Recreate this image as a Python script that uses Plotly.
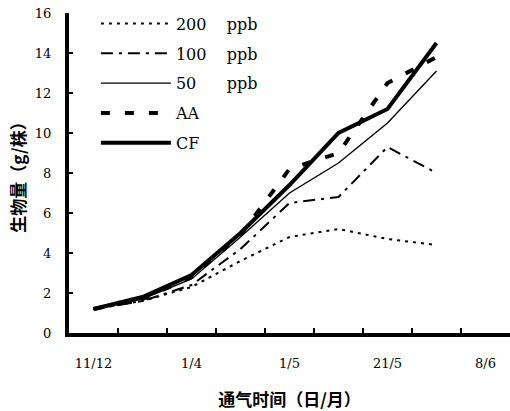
import plotly.graph_objects as go

tick_labels = ["11/12", "", "1/4", "", "1/5", "", "21/5", "", "8/6"]
x_index = [0, 1, 2, 3, 4, 5, 6, 7]

series_names = ["200\u00a0\u00a0\u00a0\u00a0ppb", "100\u00a0\u00a0\u00a0\u00a0ppb", "50\u00a0\u00a0\u00a0\u00a0\u00a0\u00a0ppb", "AA", "CF"]
v200 = [1.2, 1.6, 2.3, 3.6, 4.8, 5.2, 4.7, 4.4]
v100 = [1.2, 1.6, 2.4, 4.2, 6.5, 6.8, 9.3, 8.0]
v50 = [1.2, 1.7, 2.7, 4.8, 7.0, 8.5, 10.5, 13.1]
vAA = [1.2, 1.7, 2.8, 4.9, 8.2, 9.0, 12.5, 13.8]
vCF = [1.2, 1.8, 2.9, 5.0, 7.4, 10.0, 11.2, 14.5]

styles = [
    dict(width=2, dash="3px,5px"),
    dict(width=2, dash="12px,6px,3px,6px"),
    dict(width=1.4, dash="solid"),
    dict(width=4, dash="9px,15px"),
    dict(width=4, dash="solid"),
]

fig = go.Figure()
for i, (name, vals, st) in enumerate(zip(series_names, [v200, v100, v50, vAA, vCF], styles)):
    fig.add_trace(go.Scatter(
        x=x_index, y=vals, mode="lines", name=name, legendgroup=str(i),
        line=dict(color="black", width=st["width"], dash=st["dash"]),
    ))

fig.update_layout(
    width=510, height=411,
    margin=dict(l=69, r=0, t=13, b=78),
    paper_bgcolor="white", plot_bgcolor="white",
    font=dict(family="DejaVu Serif", color="black", size=13),
    showlegend=True,
    legend=dict(
        x=0.061, y=1.020, xanchor="left", yanchor="top",
        bgcolor="rgba(0,0,0,0)", font=dict(family="DejaVu Serif", size=16),
        traceorder="grouped", tracegroupgap=6, itemwidth=70,
    ),
    xaxis=dict(
        type="category", categoryorder="array", categoryarray=list(range(9)),
        tickvals=list(range(9)), ticktext=tick_labels, tickson="boundaries",
        range=[-0.5, 8.5], showgrid=False, zeroline=False, automargin=False,
        showline=True, linewidth=4, linecolor="black",
        ticks="inside", ticklen=5, tickwidth=1.5, tickcolor="black",
        ticklabelstandoff=15,
        tickfont=dict(family="DejaVu Serif", size=13),
        title=dict(text="<b>通气时间（日/月）</b>", font=dict(family="Noto Sans CJK SC", size=17), standoff=26),
    ),
    yaxis=dict(
        range=[0, 16], tickvals=[0, 2, 4, 6, 8, 10, 12, 14, 16],
        showgrid=False, zeroline=False, automargin=False,
        showline=True, linewidth=4, linecolor="black",
        ticks="inside", ticklen=4, tickwidth=1.5, tickcolor="black",
        ticklabelstandoff=11,
        tickfont=dict(family="DejaVu Serif", size=13),
        title=dict(text="<b>生物量（g/株）</b>", font=dict(family="Noto Sans CJK SC", size=17), standoff=6),
    ),
)

fig.write_html(
    "out.html",
    config={"displayModeBar": False},
    post_script="document.body.style.margin='0px';document.body.style.overflow='hidden';",
)
